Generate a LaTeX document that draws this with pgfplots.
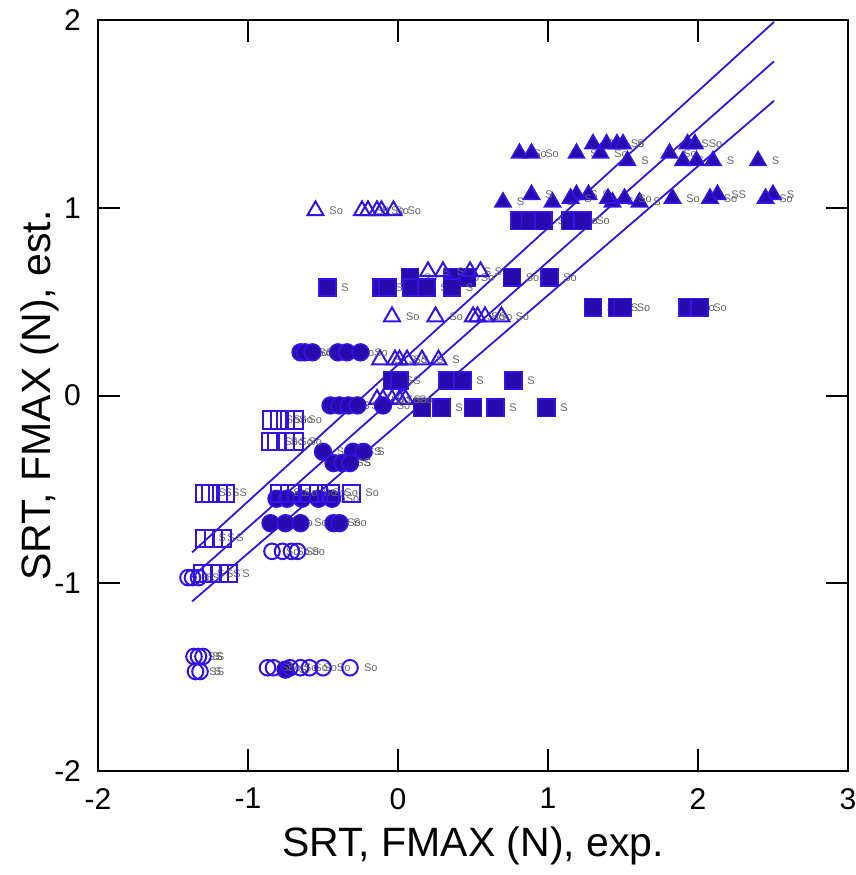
\documentclass[border=0pt]{standalone}
\usepackage{fontspec}
\setmainfont{Liberation Sans}
\usepackage{pgfplots}
\pgfplotsset{compat=1.18}

\definecolor{mblue}{RGB}{50,20,230}
\definecolor{mfill}{RGB}{40,10,175}

\pgfplotsset{
  pts/.style={only marks, nodes near coords, point meta=explicit symbolic,
    every node near coord/.append style={font=\fontsize{5.5}{6}\selectfont,
      text=black!60, anchor=west, inner sep=0pt, xshift=6.5pt}},
  ftri/.style={pts, mark=triangle*, mark size=4.6pt, mark options={draw=mblue, fill=mfill, line width=0.8pt}},
  fsq/.style={pts, mark=square*, mark size=4.3pt, mark options={draw=mblue, fill=mfill, line width=0.8pt}},
  fcirc/.style={pts, mark=*, mark size=4.2pt, mark options={draw=mblue, fill=mfill, line width=0.8pt}},
  otri/.style={pts, mark=triangle, mark size=4.6pt, mark options={draw=mblue, line width=1pt}},
  osq/.style={pts, mark=square, mark size=4.3pt, mark options={draw=mblue, line width=1pt}},
  ocirc/.style={pts, mark=o, mark size=3.9pt, mark options={draw=mblue, line width=1pt}},
}

\begin{document}
\begin{tikzpicture}
\useasboundingbox (-49pt,-52pt) rectangle (379pt,385.5pt);
\begin{axis}[
  at={(0,0)}, anchor=south west,
  width=375pt, height=375.5pt, scale only axis,
  xmin=-2, xmax=3, ymin=-2, ymax=2,
  xtick={-2,-1,0,1,2,3}, xticklabels={-2,-1,0,1,2,3},
  ytick={-2,-1,0,1,2}, yticklabels={-2,-1,0,1,2},
  tick align=inside, major tick length=11pt,
  tick style={black, line width=1pt},
  axis line style={black, line width=1pt},
  ticklabel style={font=\fontsize{15}{15}\selectfont},
  xticklabel style={yshift=-5pt},
  yticklabel style={xshift=-5pt},
  xlabel={SRT, FMAX (N), exp.},
  ylabel={SRT, FMAX (N), est.},
  label style={font=\fontsize{20.5}{22}\selectfont},
  x label style={at={(axis description cs:0.5,-0.1)}, anchor=center},
  y label style={at={(axis description cs:-0.077,0.5)}, anchor=center},
  clip=false,
]
% regression line and bands
\addplot[mblue, line width=0.9pt] coordinates {(-1.373,-0.836) (2.507,1.99)};
\addplot[mblue, line width=0.9pt] coordinates {(-1.373,-0.967) (2.507,1.78)};
\addplot[mblue, line width=0.9pt] coordinates {(-1.373,-1.097) (2.507,1.57)};

% filled triangles
\addplot[ftri] coordinates {
 (0.81,1.29)[So] (0.89,1.29)[So] (1.19,1.29)[S] (1.35,1.29)[So] (1.81,1.29)[So]
 (1.30,1.34)[So] (1.39,1.34)[S] (1.46,1.34)[So] (1.50,1.34)[S] (1.93,1.34)[S] (1.98,1.34)[So]
 (1.53,1.25)[S] (1.90,1.25)[S] (1.99,1.25)[S] (2.10,1.25)[S] (2.40,1.25)[S]
 (0.70,1.03)[S] (1.03,1.03)[S] (1.43,1.03)[So] (1.61,1.03)[S]
 (0.89,1.07)[S] (1.19,1.07)[S] (1.27,1.07)[S] (2.13,1.07)[SS] (2.50,1.07)[S]
 (1.15,1.05)[S] (1.40,1.05)[S] (1.51,1.05)[So] (1.83,1.05)[So] (2.08,1.05)[So] (2.45,1.05)[So]
};
% filled squares
\addplot[fsq] coordinates {
 (0.81,0.93)[S] (0.88,0.93)[S] (0.97,0.93)[So] (1.15,0.93)[So] (1.23,0.93)[So]
 (0.08,0.63)[So] (0.36,0.63)[So] (0.46,0.63)[So] (0.76,0.63)[So] (1.01,0.63)[So]
 (-0.47,0.575)[S] (-0.11,0.575)[S] (-0.07,0.575)[S] (0.09,0.575)[S] (0.19,0.575)[S] (0.36,0.575)[S]
 (1.30,0.47)[So] (1.46,0.47)[S] (1.50,0.47)[So] (1.93,0.47)[So] (2.01,0.47)[So]
 (-0.04,0.08)[S] (0.01,0.08)[S] (0.33,0.08)[S] (0.43,0.08)[S] (0.77,0.08)[S]
 (0.16,-0.065)[S] (0.29,-0.065)[S] (0.50,-0.065)[S] (0.65,-0.065)[S] (0.99,-0.065)[S]
};
% open triangles
\addplot[otri] coordinates {
 (-0.55,0.985)[So] (-0.24,0.985)[So] (-0.20,0.985)[S] (-0.14,0.985)[So] (-0.11,0.985)[So] (-0.03,0.985)[So]
 (0.20,0.66)[S] (0.30,0.66)[S] (0.48,0.66)[S] (0.55,0.66)[S]
 (-0.04,0.42)[So] (0.25,0.42)[So] (0.50,0.42)[So] (0.53,0.42)[So] (0.58,0.42)[So] (0.69,0.42)[So]
 (-0.12,0.19)[S] (-0.02,0.19)[S] (0.01,0.19)[So] (0.06,0.19)[S] (0.16,0.19)[S] (0.27,0.19)[S]
 (-0.14,-0.02)[So] (-0.10,-0.02)[So] (-0.04,-0.02)[So] (0.01,-0.02)[So] (0.05,-0.02)[So]
};
% filled circles
\addplot[fcirc] coordinates {
 (-0.65,0.23)[So] (-0.62,0.23)[So] (-0.57,0.23)[So] (-0.40,0.23)[So] (-0.34,0.23)[So] (-0.25,0.23)[So]
 (-0.45,-0.053)[So] (-0.39,-0.053)[So] (-0.33,-0.053)[S] (-0.27,-0.053)[So] (-0.10,-0.053)[So]
 (-0.50,-0.30)[S] (-0.30,-0.30)[SS] (-0.23,-0.30)[S]
 (-0.43,-0.36)[S] (-0.37,-0.36)[SS] (-0.32,-0.36)[S]
 (-0.81,-0.55)[So] (-0.74,-0.55)[So] (-0.64,-0.55)[S] (-0.53,-0.55)[So] (-0.44,-0.55)[So]
 (-0.85,-0.68)[So] (-0.75,-0.68)[So] (-0.65,-0.68)[So] (-0.43,-0.68)[So] (-0.39,-0.68)[So]
 (-0.75,-1.46)[S]
};
% open circles
\addplot[ocirc] coordinates {
 (-0.84,-0.83)[So] (-0.77,-0.83)[So] (-0.71,-0.83)[So] (-0.67,-0.83)[So]
 (-0.87,-1.45)[So] (-0.83,-1.45)[So] (-0.72,-1.45)[So] (-0.65,-1.45)[So] (-0.59,-1.45)[So] (-0.50,-1.45)[So] (-0.32,-1.45)[So]
 (-1.40,-0.97)[S] (-1.37,-0.97)[S] (-1.33,-0.97)[S]
 (-1.36,-1.39)[SS] (-1.33,-1.39)[S] (-1.30,-1.39)[S]
 (-1.35,-1.47)[SS] (-1.32,-1.47)[S]
};
% open squares
\addplot[osq] coordinates {
 (-0.84,-0.13)[So] (-0.79,-0.13)[So] (-0.75,-0.13)[So] (-0.69,-0.13)[So]
 (-0.85,-0.245)[So] (-0.81,-0.245)[So] (-0.75,-0.245)[So] (-0.69,-0.245)[So]
 (-1.29,-0.52)[S] (-1.25,-0.52)[S] (-1.20,-0.52)[S] (-1.15,-0.52)[S]
 (-0.79,-0.52)[So] (-0.72,-0.52)[So] (-0.59,-0.52)[So] (-0.53,-0.52)[So] (-0.45,-0.52)[So] (-0.31,-0.52)[So]
 (-1.29,-0.76)[S] (-1.23,-0.76)[S] (-1.17,-0.76)[S]
 (-1.30,-0.95)[S] (-1.24,-0.95)[S] (-1.19,-0.95)[S] (-1.13,-0.95)[S]
};
\end{axis}
\end{tikzpicture}
\end{document}
